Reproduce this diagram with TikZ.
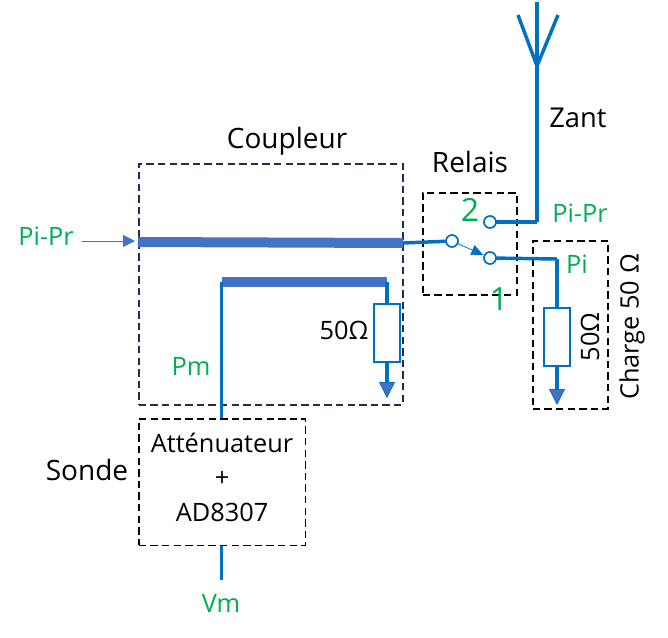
\documentclass[tikz,border=0pt]{standalone}
\usepackage{fontspec}
\setmainfont{Open Sans}
\usetikzlibrary{arrows.meta}
\definecolor{wire}{HTML}{0070C0}
\definecolor{bar}{HTML}{4472C4}
\definecolor{grn}{HTML}{00B050}
\definecolor{navy}{HTML}{1F2D4D}
\tikzset{
  x=0.75pt,y=-0.75pt,
  wireline/.style={draw=wire,line width=2.6pt},
  thickbar/.style={draw=bar,line width=7.5pt},
  boxdash/.style={draw=black,line width=1.2pt,dash pattern=on 5.5pt off 3.2pt},
  navydash/.style={draw=navy,line width=1.2pt,dash pattern=on 5.5pt off 3.2pt},
  resistor/.style={draw=wire,line width=1.5pt,fill=white,minimum width=20pt,minimum height=43pt,inner sep=0pt,outer sep=0pt},
  contact/.style={circle,draw=wire,line width=1.3pt,fill=white,minimum size=9pt,inner sep=0pt,outer sep=0pt},
  gnd/.style={-{Triangle[length=12pt,width=12pt,line width=0.6pt,fill=bar,color=wire]},draw=wire,line width=2.6pt},
  lbl/.style={font=\fontsize{19}{23}\selectfont,text=black,inner sep=0pt},
  big/.style={font=\fontsize{21}{25}\selectfont,text=black,inner sep=0pt},
  glbl/.style={font=\fontsize{19}{23}\selectfont,text=grn,inner sep=0pt},
  gnum/.style={font=\fontsize{24}{28}\selectfont,text=grn,inner sep=0pt},
}
\begin{document}
\begin{tikzpicture}
\useasboundingbox (0,0) rectangle (668,637);
% dashed boxes
\node[navydash,minimum width=198pt,minimum height=180.75pt,inner sep=0pt,anchor=north west] (coupl) at (138,163) {};
\node[boxdash,minimum width=70.5pt,minimum height=76.5pt,inner sep=0pt,anchor=north west] (relais) at (422,192) {};
\node[boxdash,minimum width=56.5pt,minimum height=126pt,inner sep=0pt,anchor=north west] (charge) at (532,240) {};
\node[boxdash,minimum width=125pt,minimum height=95pt,inner sep=0pt,anchor=north west] (sonde) at (138,418) {};
% coordinates
\coordinate (ant) at (537,2);
\coordinate (antv) at (537,66);
\coordinate (antl) at (518,15);
\coordinate (antr) at (558,15);
\coordinate (corner) at (537,222);
\coordinate (c1) at (138,242);
\coordinate (c2) at (403,243);
\coordinate (d1) at (221.5,282);
\coordinate (d2) at (387,282);
\coordinate (pm) at (221.5,418);
\coordinate (corner2) at (557,259);
\coordinate (vm) at (221.5,552);
\coordinate (vmend) at (221.5,580);
\coordinate (gnd1) at (387,398);
\coordinate (gnd2) at (557,405);
\coordinate (inA) at (82,241);
\coordinate (inB) at (135,241);
% antenna
\draw[wireline] (ant) -- (corner);
\draw[wireline] (antl) -- (antv) -- (antr);
% bars
\draw[thickbar] (c1) -- (c2);
\draw[thickbar] (d1) -- (d2);
% relay contacts
\draw[wireline] (c2) -- (452,241);
\draw[wireline] (490,222) -- (corner);
\draw[wireline] (490,258) -- (corner2);
\node[contact] (k0) at (452,241) {};
\node[contact] (k1) at (490,258) {};
\node[contact] (k2) at (490,222) {};
\draw[-{Triangle[length=9pt,width=8pt,fill=wire]},draw=wire,line width=0.6pt,shorten >=1pt] (k0) -- (k1);
% coupled line
\draw[wireline] (d1) -- (pm);
\node[resistor] (r1) at (387,333) {};
\draw[wireline] (d2) -- (r1.north);
\draw[gnd] (r1.south) -- (gnd1);
\node[resistor] (r2) at (557,337) {};
\draw[wireline] (corner2) -- (r2.north);
\draw[gnd] (r2.south) -- (gnd2);
\draw[wireline] (sonde.south -| vm) -- (vmend);
% input arrow
\draw[-{Triangle[length=9pt,width=9pt,fill=bar]},draw=bar,line width=0.6pt] (inA) -- (inB);
% labels
\node[big,anchor=west,font=\fontsize{20.5}{25}\selectfont] (zant) at (549,118) {Zant};
\node[big] (tc) at (287,141) {Coupleur};
\node[big] (tr) at (470,162) {Relais};
\node[big] (ts) at (87,470) {Sonde};
\node[lbl] (t1) at (222,443) {Atténuateur};
\node[lbl] (t2) at (222,479) {+};
\node[lbl] (t3) at (222,512) {AD8307};
\node[lbl] (t50a) at (344,330) {50Ω};
\node[lbl,rotate=90] (t50b) at (590,337) {50Ω};
\node[lbl,rotate=90] (tch) at (632,327) {Charge 50 Ω};
\node[glbl] (g1) at (46,236) {Pi-Pr};
\node[glbl] (g2) at (580,213) {Pi-Pr};
\node[glbl] (g3) at (577,264) {Pi};
\node[glbl] (g4) at (191,366) {Pm};
\node[glbl] (g5) at (221,603) {Vm};
\node[gnum] (n2) at (470,210) {2};
\node[gnum] (n1) at (499,299) {1};
\end{tikzpicture}
\end{document}
